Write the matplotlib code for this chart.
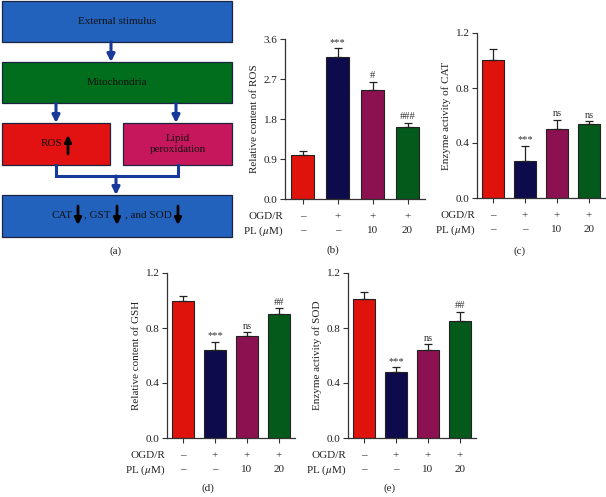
import matplotlib

matplotlib.use("Agg")
import matplotlib.pyplot as plt
from matplotlib.patches import Rectangle

plt.rcParams["font.family"] = ["Liberation Serif", "DejaVu Serif"]
plt.rcParams["mathtext.fontset"] = "stix"

# data
ogd_r = ["–", "+", "+", "+"]
pl_um = ["–", "–", "10", "20"]
bar_colors = ["#e0120c", "#0e0b4c", "#8c1150", "#045a1b"]

ros = [1.00, 3.20, 2.45, 1.62]
ros_err = [0.09, 0.19, 0.19, 0.10]
ros_sig = ["", "***", "#", "###"]

cat = [1.00, 0.27, 0.50, 0.54]
cat_err = [0.08, 0.11, 0.07, 0.02]
cat_sig = ["", "***", "ns", "ns"]

gsh = [1.00, 0.64, 0.74, 0.90]
gsh_err = [0.035, 0.06, 0.03, 0.045]
gsh_sig = ["", "***", "ns", "##"]

sod = [1.01, 0.48, 0.64, 0.85]
sod_err = [0.05, 0.036, 0.043, 0.07]
sod_sig = ["", "***", "ns", "##"]

W, H = 606, 497
fig = plt.figure(figsize=(W / 100, H / 100), dpi=100)
FS = 8
TXT = "#222222"


def px_axes(left, top, right, bottom):
    return fig.add_axes([left / W, 1 - bottom / H, (right - left) / W, (bottom - top) / H])


def bar_panel(ax, vals, errs, sigs, ylabel, ymax, step):
    x = list(range(len(vals)))
    ax.bar(x, vals, width=0.68, color=bar_colors, edgecolor=TXT, linewidth=0.8,
           yerr=[[0] * len(errs), errs],
           error_kw=dict(ecolor=TXT, elinewidth=0.9, capsize=3.2, capthick=0.9))
    ax.set_xlim(-0.5, 3.5)
    ax.set_ylim(0, ymax)
    ticks = [step * k for k in range(int(round(ymax / step)) + 1)]
    ax.set_yticks(ticks)
    ax.set_yticklabels([f"{t:.1f}" for t in ticks])
    ax.set_xticks(x)
    ax.set_xticklabels([])
    for s in ("top", "right"):
        ax.spines[s].set_visible(False)
    for s in ("left", "bottom"):
        ax.spines[s].set_linewidth(0.9)
        ax.spines[s].set_color("#333333")
    ax.tick_params(direction="out", length=3.5, width=0.8, labelsize=FS, pad=2,
                   colors="#333333", labelcolor=TXT)
    ax.set_ylabel(ylabel, fontsize=FS, color=TXT, labelpad=3)
    for i, (v, e, s) in enumerate(zip(vals, errs, sigs)):
        if s:
            ax.annotate(s, xy=(i, v + e), xytext=(0, 1), textcoords="offset points",
                        ha="center", va="bottom", fontsize=7.5, color="#333333")
    for row, off in ((ogd_r, -12.5), (pl_um, -23)):
        for i, lab in enumerate(row):
            ax.annotate(lab, xy=(i, 0), xycoords=("data", "axes fraction"),
                        xytext=(0, off), textcoords="offset points",
                        ha="center", va="center", fontsize=FS, color=TXT)
    ax.annotate("OGD/R", xy=(0, 0), xycoords="axes fraction", xytext=(-1, -12.5),
                textcoords="offset points", ha="right", va="center", fontsize=FS, color=TXT)
    ax.annotate(r"PL ($\mu$M)", xy=(0, 0), xycoords="axes fraction", xytext=(-1, -23),
                textcoords="offset points", ha="right", va="center", fontsize=FS, color=TXT)


# panel (a): flow diagram, drawn in pixel units
axa = px_axes(0, 0, 240, 260)
axa.set_xlim(0, 240)
axa.set_ylim(260, 0)
axa.axis("off")

boxes = [
    (2, 1, 230, 41, "#2262bd", "External stimulus"),
    (2, 62, 230, 41, "#006e1c", "Mitochondria"),
    (2, 123, 108, 42, "#e31212", ""),
    (123, 123, 109, 42, "#c6175c", "Lipid\nperoxidation"),
    (2, 195, 230, 42, "#2262bd", ""),
]
for bx, by, bw, bh, col, lab in boxes:
    axa.add_patch(Rectangle((bx, by), bw, bh, facecolor=col, edgecolor="#1b2440", linewidth=0.9))
    if lab:
        axa.text(bx + bw / 2, by + bh / 2, lab, ha="center", va="center",
                 fontsize=FS, color="#111111", linespacing=1.3)

blue_arrow = dict(arrowstyle="-|>", color="#16399a", lw=2.2, mutation_scale=11,
                  shrinkA=0, shrinkB=0)
for x0, y0, y1 in ((111, 42, 62), (56, 103, 123), (176, 103, 123), (116, 176, 195)):
    axa.annotate("", xy=(x0, y1), xytext=(x0, y0), arrowprops=blue_arrow)
axa.plot([56, 56, 178, 178], [165, 176, 176, 165], color="#16399a", lw=2.2,
         solid_joinstyle="miter")

black_arrow = dict(arrowstyle="-|>", color="black", lw=2.0, mutation_scale=10,
                   shrinkA=0, shrinkB=0)
axa.text(62, 144, "ROS", ha="right", va="center", fontsize=FS, color="#111111")
axa.annotate("", xy=(68, 135), xytext=(68, 154), arrowprops=black_arrow)

axa.text(73, 215, "CAT", ha="right", va="center", fontsize=FS, color="#111111")
axa.text(111, 215, ", GST", ha="right", va="center", fontsize=FS, color="#111111")
axa.text(172, 215, ", and SOD", ha="right", va="center", fontsize=FS, color="#111111")
for ax_x in (78, 117, 178):
    axa.annotate("", xy=(ax_x, 225), xytext=(ax_x, 206), arrowprops=black_arrow)

# bar panels
axb = px_axes(285, 39, 425, 199)
bar_panel(axb, ros, ros_err, ros_sig, "Relative content of ROS", 3.6, 0.9)

axc = px_axes(477, 33, 605, 198)
bar_panel(axc, cat, cat_err, cat_sig, "Enzyme activity of CAT", 1.2, 0.4)

axd = px_axes(167, 273, 295, 438)
bar_panel(axd, gsh, gsh_err, gsh_sig, "Relative content of GSH", 1.2, 0.4)

axe = px_axes(348, 273, 476, 438)
bar_panel(axe, sod, sod_err, sod_sig, "Enzyme activity of SOD", 1.2, 0.4)

for lab, x, y in (("(a)", 116, 251), ("(b)", 333, 250), ("(c)", 520, 251),
                  ("(d)", 208, 488), ("(e)", 390, 488)):
    fig.text(x / W, 1 - y / H, lab, ha="center", va="center", fontsize=FS, color=TXT)

fig.savefig("out.png", dpi=100)
plt.close(fig)
